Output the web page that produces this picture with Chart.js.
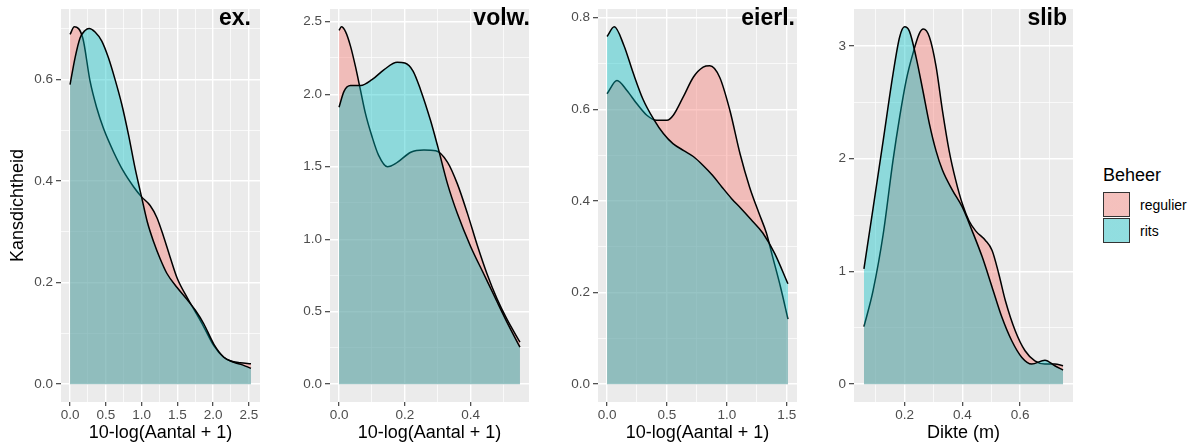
<!DOCTYPE html>
<html>
<head>
<meta charset="utf-8">
<script src="https://cdn.jsdelivr.net/npm/chart.js@4.4.0/dist/chart.umd.min.js"></script>
<style>
  body { margin: 0; background: #fff; width: 1195px; height: 446px; overflow: hidden; position: relative;
         font-family: "Liberation Sans", Arial, sans-serif; }
  canvas { position: absolute; top: 0; }
  #legendTitle { position: absolute; left: 1103px; top: 166px; font-size: 18px; line-height: 18px; color: #000; }
  .key { position: absolute; left: 1103px; width: 25px; height: 23px; border: 1.4px solid #333; }
  .keyLabel { position: absolute; left: 1140px; height: 25px; display: flex; align-items: center;
              font-size: 14px; color: #000; }
</style>
</head>
<body>
<canvas id="ex" width="270" height="446" style="left:0px"></canvas>
<canvas id="volw" width="250" height="446" style="left:290px"></canvas>
<canvas id="eierl" width="247" height="446" style="left:560px"></canvas>
<canvas id="slib" width="263" height="446" style="left:820px"></canvas>

<div id="legendTitle">Beheer</div>
<div class="key" style="top:192px;background:linear-gradient(rgba(248,118,109,0.4),rgba(248,118,109,0.4)),#f2f2f2"></div>
<div class="keyLabel" style="top:192px">regulier</div>
<div class="key" style="top:218px;background:linear-gradient(rgba(0,191,196,0.4),rgba(0,191,196,0.4)),#f2f2f2"></div>
<div class="keyLabel" style="top:218px">rits</div>

<script>
// ---- data: density curves ----
// ex. (10-log(Aantal + 1))
const exRegX  = [0, 0.06, 0.178, 0.28, 0.374, 0.467, 0.607, 0.748, 0.888, 1.0, 1.12, 1.215, 1.31, 1.40, 1.5, 1.64, 1.75, 1.87, 2.01, 2.15, 2.24, 2.38, 2.53];
const exRegY  = [0.689, 0.704, 0.682, 0.597, 0.544, 0.504, 0.458, 0.419, 0.389, 0.369, 0.352, 0.328, 0.29, 0.25, 0.208, 0.170, 0.143, 0.113, 0.076, 0.053, 0.046, 0.042, 0.040];
const exRitsX = [0, 0.07, 0.14, 0.21, 0.266, 0.35, 0.444, 0.537, 0.63, 0.724, 0.818, 0.91, 1.0, 1.08, 1.17, 1.26, 1.355, 1.5, 1.64, 1.75, 1.87, 2.01, 2.15, 2.29, 2.41, 2.53];
const exRitsY = [0.59, 0.643, 0.682, 0.697, 0.701, 0.694, 0.676, 0.643, 0.60, 0.551, 0.491, 0.425, 0.369, 0.32, 0.28, 0.247, 0.218, 0.19, 0.166, 0.146, 0.119, 0.079, 0.053, 0.043, 0.038, 0.031];

// volw.
const volwRegX  = [0, 0.007, 0.02, 0.035, 0.05, 0.065, 0.08, 0.10, 0.12, 0.147, 0.177, 0.218, 0.258, 0.294, 0.33, 0.36, 0.39, 0.42, 0.45, 0.48, 0.51, 0.55];
const volwRegY  = [2.44, 2.465, 2.43, 2.33, 2.19, 2.03, 1.87, 1.71, 1.58, 1.50, 1.53, 1.60, 1.615, 1.61, 1.53, 1.38, 1.18, 0.96, 0.76, 0.59, 0.45, 0.29];
const volwRitsX = [0, 0.015, 0.035, 0.066, 0.10, 0.137, 0.177, 0.20, 0.225, 0.248, 0.278, 0.30, 0.33, 0.36, 0.40, 0.44, 0.48, 0.51, 0.55];
const volwRitsY = [1.91, 2.02, 2.06, 2.06, 2.10, 2.17, 2.22, 2.215, 2.16, 2.03, 1.82, 1.64, 1.38, 1.175, 0.95, 0.76, 0.57, 0.43, 0.255];

// eierl.
const eierlRegX  = [0, 0.083, 0.166, 0.249, 0.332, 0.415, 0.50, 0.553, 0.636, 0.72, 0.802, 0.858, 0.94, 1.025, 1.11, 1.19, 1.27, 1.33, 1.38, 1.45, 1.51];
const eierlRegY  = [0.634, 0.663, 0.641, 0.612, 0.587, 0.576, 0.576, 0.587, 0.627, 0.67, 0.692, 0.695, 0.67, 0.598, 0.503, 0.43, 0.372, 0.33, 0.28, 0.21, 0.142];
const eierlRitsX = [0, 0.06, 0.14, 0.22, 0.30, 0.39, 0.47, 0.55, 0.64, 0.72, 0.80, 0.88, 0.96, 1.04, 1.12, 1.20, 1.30, 1.40, 1.51];
const eierlRitsY = [0.759, 0.78, 0.74, 0.678, 0.622, 0.578, 0.547, 0.525, 0.51, 0.497, 0.478, 0.456, 0.43, 0.405, 0.383, 0.36, 0.33, 0.285, 0.219];

// slib (Dikte (m))
const slibRegX  = [0.0594, 0.091, 0.126, 0.16, 0.183, 0.206, 0.229, 0.251, 0.265, 0.286, 0.309, 0.331, 0.354, 0.377, 0.40, 0.423, 0.446, 0.48, 0.503, 0.526, 0.549, 0.583, 0.617, 0.651, 0.686, 0.72, 0.7486];
const slibRegY  = [0.51, 0.83, 1.33, 1.986, 2.37, 2.70, 2.935, 3.11, 3.15, 3.08, 2.82, 2.43, 2.075, 1.81, 1.60, 1.45, 1.36, 1.275, 1.186, 0.98, 0.74, 0.474, 0.296, 0.207, 0.178, 0.178, 0.163];
const slibRitsX = [0.0594, 0.091, 0.126, 0.16, 0.183, 0.20, 0.217, 0.24, 0.263, 0.286, 0.309, 0.331, 0.366, 0.40, 0.434, 0.469, 0.503, 0.537, 0.571, 0.606, 0.64, 0.686, 0.72, 0.7486];
const slibRitsY = [1.023, 1.56, 2.16, 2.75, 3.08, 3.17, 3.13, 2.90, 2.61, 2.31, 2.07, 1.90, 1.72, 1.57, 1.36, 1.127, 0.86, 0.593, 0.385, 0.237, 0.178, 0.213, 0.163, 0.125];

// ---- ticks ----
const exXTicks = [0, 0.5, 1, 1.5, 2, 2.5];
const exXLabels = ['0.0', '0.5', '1.0', '1.5', '2.0', '2.5'];
const exYTicks = [0, 0.2, 0.4, 0.6];
const exYLabels = ['0.0', '0.2', '0.4', '0.6'];
const volwXTicks = [0, 0.2, 0.4];
const volwXLabels = ['0.0', '0.2', '0.4'];
const volwYTicks = [0, 0.5, 1, 1.5, 2, 2.5];
const volwYLabels = ['0.0', '0.5', '1.0', '1.5', '2.0', '2.5'];
const eierlXTicks = [0, 0.5, 1, 1.5];
const eierlXLabels = ['0.0', '0.5', '1.0', '1.5'];
const eierlYTicks = [0, 0.2, 0.4, 0.6, 0.8];
const eierlYLabels = ['0.0', '0.2', '0.4', '0.6', '0.8'];
const slibXTicks = [0.2, 0.4, 0.6];
const slibXLabels = ['0.2', '0.4', '0.6'];
const slibYTicks = [0, 1, 2, 3];
const slibYLabels = ['0', '1', '2', '3'];

const FONT = '"Liberation Sans", Arial, sans-serif';
Chart.defaults.font.family = FONT;
Chart.defaults.color = '#4d4d4d';

const regFill = 'rgba(248,118,109,0.4)';
const ritsFill = 'rgba(0,191,196,0.4)';

// minor grid lines halfway between major ones (ggplot style)
function minorOf(major, min, max) {
  const step = major[1] - major[0];
  const ext = [major[0] - step, ...major, major[major.length - 1] + step];
  const out = [];
  for (let i = 0; i < ext.length - 1; i++) {
    const m = (ext[i] + ext[i + 1]) / 2;
    if (m > min && m < max) out.push(m);
  }
  return out;
}

function makeScale(major, labels, min, max, horizontal, size, title) {
  const all = major.concat(minorOf(major, min, max)).sort((a, b) => a - b);
  const idx = v => major.findIndex(m => Math.abs(m - v) < 1e-9);
  return {
    type: 'linear',
    min: min,
    max: max,
    afterBuildTicks: s => { s.ticks = all.map(v => ({ value: v })); },
    afterFit: s => {
      if (horizontal) s.height = size; else s.width = size;
      s.paddingLeft = 0; s.paddingRight = 0; s.paddingTop = 0; s.paddingBottom = 0;
    },
    ticks: {
      autoSkip: false,
      maxRotation: 0,
      padding: horizontal ? 1 : 3,
      color: '#4d4d4d',
      font: { size: 13.5 },
      callback: v => { const i = idx(v); return i >= 0 ? labels[i] : ''; }
    },
    grid: {
      color: '#ffffff',
      lineWidth: ctx => (ctx.tick && idx(ctx.tick.value) >= 0) ? 1.4 : 0.7,
      tickLength: horizontal ? 4 : 5,
      tickWidth: 1.1,
      tickColor: ctx => (ctx.tick && idx(ctx.tick.value) >= 0) ? '#333333' : 'rgba(0,0,0,0)'
    },
    border: { display: false },
    title: title ? {
      display: true,
      text: title,
      color: '#000',
      font: { size: 18 },
      padding: horizontal ? { top: 0, bottom: 2 } : { top: 7.5, bottom: 0 }
    } : { display: false }
  };
}

const panelBg = {
  id: 'panelBg',
  beforeDraw(chart) {
    const { ctx, chartArea: a } = chart;
    ctx.save();
    ctx.fillStyle = '#ebebeb';
    ctx.fillRect(a.left, a.top, a.right - a.left, a.bottom - a.top);
    ctx.restore();
  }
};

const panelLabel = {
  id: 'panelLabel',
  afterDraw(chart, args, opts) {
    const { ctx, chartArea: a } = chart;
    ctx.save();
    ctx.font = 'bold 23px ' + FONT;
    ctx.fillStyle = '#000';
    ctx.textAlign = 'right';
    ctx.textBaseline = 'alphabetic';
    ctx.fillText(opts.text, a.right - opts.inset, 25);
    ctx.restore();
  }
};

function series(xs, ys, fill, order) {
  return {
    data: xs.map((x, i) => ({ x: x, y: ys[i] })),
    borderColor: '#000',
    borderWidth: 1.5,
    backgroundColor: fill,
    fill: 'origin',
    pointRadius: 0,
    cubicInterpolationMode: 'monotone',
    order: order
  };
}

function makePanel(id, p) {
  new Chart(document.getElementById(id), {
    type: 'line',
    data: {
      datasets: [
        series(p.regX, p.regY, regFill, 2),
        series(p.ritsX, p.ritsY, ritsFill, 1)
      ]
    },
    options: {
      responsive: false,
      animation: false,
      layout: { padding: { top: 9, right: p.padRight, left: 0, bottom: 0 } },
      plugins: {
        legend: { display: false },
        tooltip: { enabled: false },
        panelLabel: { text: p.label, inset: p.inset }
      },
      scales: {
        x: makeScale(p.xTicks, p.xLabels, p.xMin, p.xMax, true, 44, p.xTitle),
        y: makeScale(p.yTicks, p.yLabels, p.yMin, p.yMax, false, p.yWidth, p.yTitle)
      }
    },
    plugins: [panelBg, panelLabel]
  });
}

makePanel('ex', {
  regX: exRegX, regY: exRegY, ritsX: exRitsX, ritsY: exRitsY,
  xTicks: exXTicks, xLabels: exXLabels, yTicks: exYTicks, yLabels: exYLabels,
  xMin: -0.1265, xMax: 2.6565, yMin: -0.0352, yMax: 0.7392,
  xTitle: '10-log(Aantal + 1)', yTitle: 'Kansdichtheid',
  yWidth: 61, padRight: 10, label: 'ex.', inset: 9
});
makePanel('volw', {
  regX: volwRegX, regY: volwRegY, ritsX: volwRitsX, ritsY: volwRitsY,
  xTicks: volwXTicks, xLabels: volwXLabels, yTicks: volwYTicks, yLabels: volwYLabels,
  xMin: -0.0275, xMax: 0.5775, yMin: -0.123, yMax: 2.588,
  xTitle: '10-log(Aantal + 1)', yTitle: null,
  yWidth: 40, padRight: 11, label: 'volw.', inset: -1
});
makePanel('eierl', {
  regX: eierlRegX, regY: eierlRegY, ritsX: eierlRitsX, ritsY: eierlRitsY,
  xTicks: eierlXTicks, xLabels: eierlXLabels, yTicks: eierlYTicks, yLabels: eierlYLabels,
  xMin: -0.0755, xMax: 1.5855, yMin: -0.039, yMax: 0.819,
  xTitle: '10-log(Aantal + 1)', yTitle: null,
  yWidth: 38, padRight: 10, label: 'eierl.', inset: 2
});
makePanel('slib', {
  regX: slibRegX, regY: slibRegY, ritsX: slibRitsX, ritsY: slibRitsY,
  xTicks: slibXTicks, xLabels: slibXLabels, yTicks: slibYTicks, yLabels: slibYLabels,
  xMin: 0.025, xMax: 0.783, yMin: -0.1585, yMax: 3.3285,
  xTitle: 'Dikte (m)', yTitle: null,
  yWidth: 34, padRight: 10, label: 'slib', inset: 6
});
</script>
</body>
</html>
